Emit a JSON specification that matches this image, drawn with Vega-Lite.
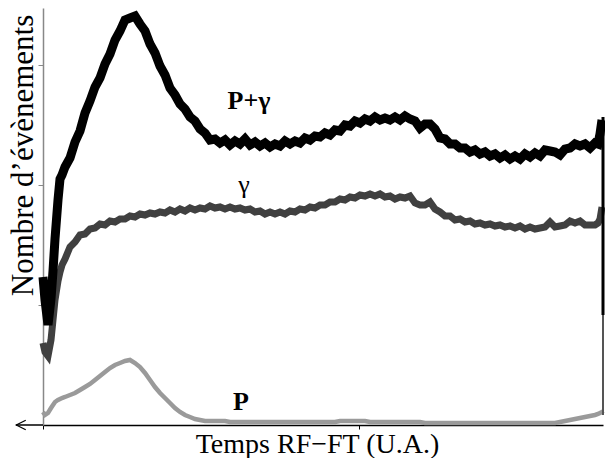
{
  "$schema": "https://vega.github.io/schema/vega-lite/v6.json",
  "width": 560,
  "height": 417,
  "autosize": {"type": "none"},
  "padding": {"left": 43, "top": 8, "right": 2, "bottom": 33},
  "background": "white",
  "config": {"view": {"stroke": null}},
  "data": {"values": [
    {"x":0,"a":148,"b":82,"c":13},
    {"x":2,"a":125,"b":73,"c":10},
    {"x":5,"a":100,"b":69,"c":12},
    {"x":8,"a":126,"b":85,"c":17},
    {"x":10,"a":154,"b":105,"c":20},
    {"x":12,"a":186,"b":125,"c":23},
    {"x":15,"a":225,"b":144,"c":25},
    {"x":17,"a":246,"b":153,"c":26},
    {"x":19,"a":250,"b":160,"c":27},
    {"x":22,"a":258,"b":166,"c":28},
    {"x":27,"a":267,"b":178,"c":30},
    {"x":32,"a":283,"b":183,"c":32},
    {"x":37,"a":294,"b":190,"c":35},
    {"x":42,"a":312,"b":191,"c":38},
    {"x":47,"a":324,"b":196,"c":41},
    {"x":52,"a":338,"b":197,"c":45},
    {"x":57,"a":347,"b":201,"c":49},
    {"x":62,"a":361,"b":200,"c":53},
    {"x":67,"a":371,"b":204,"c":57},
    {"x":72,"a":385,"b":203,"c":60},
    {"x":77,"a":394,"b":206,"c":62},
    {"x":82,"a":405,"b":206,"c":64},
    {"x":87,"a":407,"b":209,"c":65},
    {"x":92,"a":409,"b":208,"c":62},
    {"x":97,"a":401,"b":211,"c":58},
    {"x":102,"a":394,"b":210,"c":52},
    {"x":107,"a":381,"b":212,"c":45},
    {"x":112,"a":372,"b":211,"c":38},
    {"x":117,"a":359,"b":213,"c":32},
    {"x":122,"a":350,"b":212,"c":27},
    {"x":127,"a":337,"b":215,"c":22},
    {"x":132,"a":330,"b":213,"c":17},
    {"x":137,"a":321,"b":216,"c":13},
    {"x":142,"a":316,"b":214,"c":10},
    {"x":147,"a":308,"b":217,"c":8},
    {"x":152,"a":304,"b":215,"c":6},
    {"x":157,"a":296,"b":217,"c":5},
    {"x":162,"a":292,"b":216,"c":4},
    {"x":167,"a":285,"b":219,"c":4},
    {"x":172,"a":286,"b":217,"c":4},
    {"x":177,"a":282,"b":218,"c":4},
    {"x":182,"a":285,"b":216,"c":4},
    {"x":187,"a":280,"b":218,"c":3},
    {"x":192,"a":284,"b":216,"c":3},
    {"x":197,"a":281,"b":217,"c":3},
    {"x":202,"a":286,"b":215,"c":3},
    {"x":207,"a":280,"b":216,"c":3},
    {"x":212,"a":283,"b":213,"c":3},
    {"x":217,"a":279,"b":214,"c":3},
    {"x":222,"a":282,"b":211,"c":3},
    {"x":227,"a":278,"b":213,"c":3},
    {"x":232,"a":281,"b":211,"c":3},
    {"x":237,"a":279,"b":213,"c":3},
    {"x":242,"a":284,"b":211,"c":3},
    {"x":247,"a":281,"b":214,"c":3},
    {"x":252,"a":284,"b":213,"c":3},
    {"x":257,"a":282,"b":216,"c":3},
    {"x":262,"a":287,"b":215,"c":3},
    {"x":267,"a":285,"b":218,"c":3},
    {"x":272,"a":289,"b":217,"c":3},
    {"x":277,"a":288,"b":220,"c":3},
    {"x":282,"a":292,"b":220,"c":3},
    {"x":287,"a":290,"b":223,"c":3},
    {"x":292,"a":295,"b":223,"c":3},
    {"x":297,"a":294,"b":226,"c":4},
    {"x":302,"a":300,"b":225,"c":4},
    {"x":307,"a":299,"b":228,"c":4},
    {"x":312,"a":304,"b":227,"c":4},
    {"x":317,"a":302,"b":230,"c":4},
    {"x":322,"a":306,"b":229,"c":4},
    {"x":327,"a":304,"b":231,"c":3},
    {"x":332,"a":308,"b":229,"c":3},
    {"x":337,"a":305,"b":231,"c":3},
    {"x":342,"a":307,"b":228,"c":3},
    {"x":347,"a":305,"b":229,"c":3},
    {"x":352,"a":308,"b":226,"c":3},
    {"x":357,"a":305,"b":228,"c":3},
    {"x":362,"a":309,"b":227,"c":3},
    {"x":367,"a":306,"b":229,"c":3},
    {"x":372,"a":304,"b":222,"c":3},
    {"x":377,"a":297,"b":220,"c":3},
    {"x":382,"a":301,"b":220,"c":2},
    {"x":387,"a":301,"b":223,"c":2},
    {"x":392,"a":296,"b":216,"c":2},
    {"x":397,"a":287,"b":213,"c":2},
    {"x":402,"a":286,"b":209,"c":2},
    {"x":407,"a":281,"b":209,"c":2},
    {"x":412,"a":281,"b":205,"c":2},
    {"x":417,"a":277,"b":206,"c":2},
    {"x":422,"a":277,"b":203,"c":2},
    {"x":427,"a":273,"b":204,"c":2},
    {"x":432,"a":275,"b":201,"c":2},
    {"x":437,"a":271,"b":202,"c":2},
    {"x":442,"a":273,"b":200,"c":2},
    {"x":447,"a":269,"b":201,"c":2},
    {"x":452,"a":271,"b":199,"c":2},
    {"x":457,"a":267,"b":200,"c":2},
    {"x":462,"a":270,"b":198,"c":2},
    {"x":467,"a":266,"b":199,"c":2},
    {"x":472,"a":269,"b":197,"c":2},
    {"x":477,"a":266,"b":199,"c":2},
    {"x":482,"a":271,"b":196,"c":2},
    {"x":487,"a":268,"b":198,"c":2},
    {"x":492,"a":272,"b":196,"c":2},
    {"x":497,"a":269,"b":197,"c":2},
    {"x":502,"a":275,"b":198,"c":2},
    {"x":507,"a":274,"b":203,"c":2},
    {"x":512,"a":273,"b":198,"c":2},
    {"x":517,"a":270,"b":199,"c":3},
    {"x":522,"a":276,"b":200,"c":4},
    {"x":527,"a":277,"b":204,"c":5},
    {"x":532,"a":281,"b":202,"c":6},
    {"x":537,"a":279,"b":204,"c":7},
    {"x":542,"a":281,"b":200,"c":8},
    {"x":547,"a":277,"b":200,"c":9},
    {"x":552,"a":282,"b":200,"c":10},
    {"x":555,"a":281,"b":202,"c":11},
    {"x":557,"a":291,"b":206,"c":12},
    {"x":559,"a":305,"b":218,"c":13},
    {"x":560,"a":null,"b":null,"c":14}
  ]},
  "layer": [
    {
      "mark": {"type": "line", "color": "#9a9a9a", "strokeWidth": 4.5},
      "encoding": {
        "x": {"field": "x", "type": "quantitative", "scale": {"domain": [0, 560], "nice": false, "zero": false},
          "axis": {"title": "Temps RF−FT (U.A.)", "values": [0, 316], "labels": false, "grid": false,
            "domainColor": "#000", "domainWidth": 1.5, "tickColor": "#000", "tickSize": 4,
            "titleFont": "Liberation Serif", "titleFontSize": 28, "titleFontWeight": "normal", "titleColor": "#000",
            "titleBaseline": "alphabetic", "titleY": 27, "titleX": 274}},
        "y": {"field": "c", "type": "quantitative", "scale": {"domain": [0, 417], "nice": false},
          "axis": {"title": "Nombre d’évènements", "values": [120, 240, 360], "labels": false, "grid": false,
            "domainColor": "#888", "domainWidth": 1.5, "tickColor": "#888", "tickSize": 5,
            "titleFont": "Liberation Serif", "titleFontSize": 31, "titleFontWeight": "normal", "titleColor": "#000",
            "titleBaseline": "alphabetic", "titleAngle": -90, "titleX": -11, "titleY": 147}}
      }
    },
    {
      "mark": {"type": "line", "color": "#404040", "strokeWidth": 7},
      "encoding": {
        "x": {"field": "x", "type": "quantitative"},
        "y": {"field": "b", "type": "quantitative"}
      }
    },
    {
      "mark": {"type": "line", "color": "#000000", "strokeWidth": 9},
      "encoding": {
        "x": {"field": "x", "type": "quantitative"},
        "y": {"field": "a", "type": "quantitative"}
      }
    },
    {
      "data": {"values": [{"x": 560, "y": 10, "y2": 112}]},
      "mark": {"type": "rule", "color": "#555", "strokeWidth": 2},
      "encoding": {
        "x": {"field": "x", "type": "quantitative"},
        "y": {"field": "y", "type": "quantitative"},
        "y2": {"field": "y2"}
      }
    },
    {
      "data": {"values": [{"x": 560, "y": 110, "y2": 308}]},
      "mark": {"type": "rule", "color": "#000", "strokeWidth": 3},
      "encoding": {
        "x": {"field": "x", "type": "quantitative"},
        "y": {"field": "y", "type": "quantitative"},
        "y2": {"field": "y2"}
      }
    },
    {
      "data": {"values": [{"x": -27, "x2": 0, "y": 0}]},
      "mark": {"type": "rule", "color": "#000", "strokeWidth": 1.5},
      "encoding": {
        "x": {"field": "x", "type": "quantitative"},
        "x2": {"field": "x2"},
        "y": {"field": "y", "type": "quantitative"}
      }
    },
    {
      "data": {"values": [{"x": -22, "y": 0}]},
      "mark": {"type": "point", "shape": "M1,-1L-1,0L1,1", "filled": false, "stroke": "#000", "strokeWidth": 1.2, "size": 90, "opacity": 1},
      "encoding": {
        "x": {"field": "x", "type": "quantitative"},
        "y": {"field": "y", "type": "quantitative"}
      }
    },
    {
      "data": {"values": [{"x": 206, "y": 316, "label": "P+γ"}, {"x": 198, "y": 15, "label": "P"}]},
      "mark": {"type": "text", "font": "Liberation Serif", "fontSize": 26, "fontWeight": "bold", "align": "center", "baseline": "alphabetic", "color": "#000"},
      "encoding": {
        "x": {"field": "x", "type": "quantitative"},
        "y": {"field": "y", "type": "quantitative"},
        "text": {"field": "label"}
      }
    },
    {
      "data": {"values": [{"x": 201, "y": 232, "label": "γ"}]},
      "mark": {"type": "text", "font": "Liberation Serif", "fontSize": 26, "align": "center", "baseline": "alphabetic", "color": "#000"},
      "encoding": {
        "x": {"field": "x", "type": "quantitative"},
        "y": {"field": "y", "type": "quantitative"},
        "text": {"field": "label"}
      }
    }
  ]
}
